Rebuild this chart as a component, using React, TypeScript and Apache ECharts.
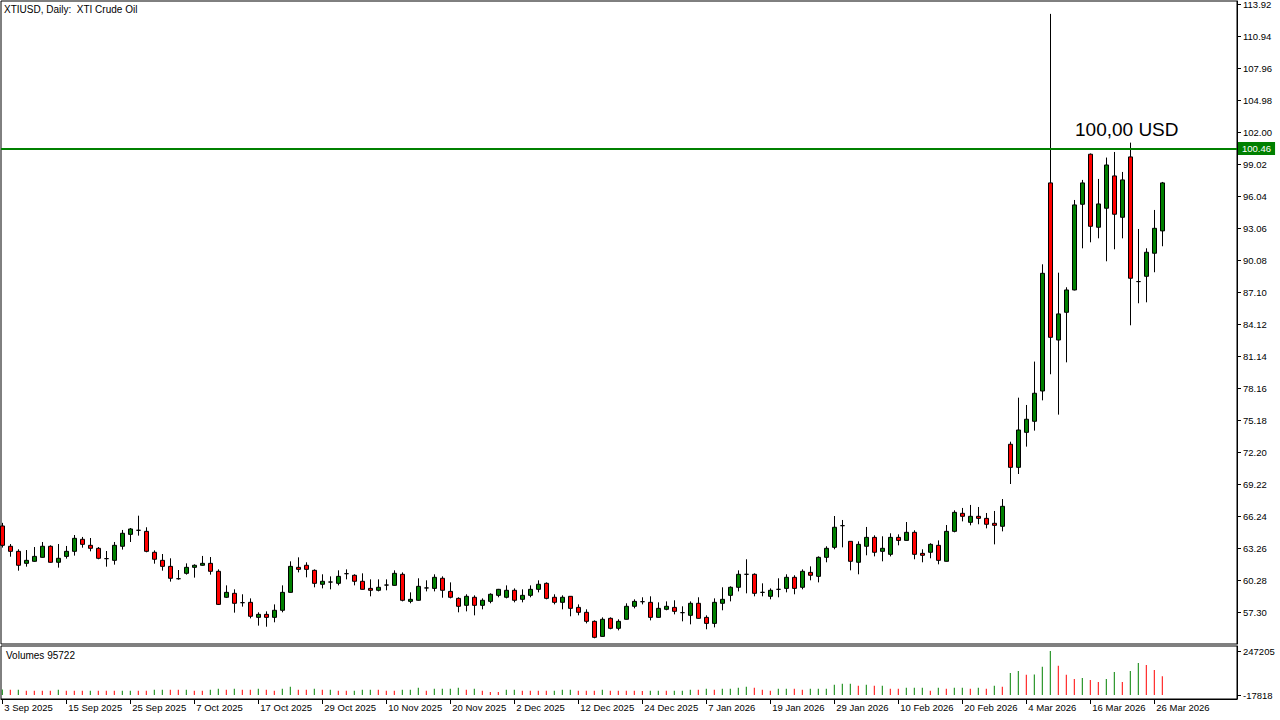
import React, { useEffect, useRef } from "react";
import * as echarts from "echarts";

// ---- data (XTIUSD daily, 3 Sep 2025 .. 27 Mar 2026) ----
const opens = [65.31, 63.42, 62.95, 61.83, 62.02, 62.39, 63.42, 61.93, 62.48, 62.95,
  64.07, 63.51, 63.23, 62.27, 62.11, 63.42, 64.53, 64.91, 64.81, 62.86,
  62.11, 61.55, 60.40, 60.90, 61.46, 61.65, 61.83, 61.09, 58.67, 59.04,
  58.17, 58.20, 56.80, 57.08, 56.80, 57.46, 59.13, 61.46, 61.65, 61.18,
  59.88, 60.09, 59.97, 60.87, 60.72, 60.16, 59.50, 59.32, 59.81, 59.78,
  60.81, 58.29, 58.39, 59.54, 59.50, 60.44, 59.22, 58.57, 57.92, 58.67,
  57.92, 58.29, 58.85, 58.67, 59.32, 58.48, 58.85, 59.41, 59.97, 58.67,
  58.20, 58.76, 57.73, 57.27, 56.43, 55.03, 56.71, 55.78, 56.62, 57.83,
  58.26, 58.20, 56.80, 57.55, 57.73, 57.24, 56.99, 58.11, 56.80, 56.24,
  58.11, 58.85, 59.60, 60.81, 60.81, 59.13, 58.76, 59.41, 59.50, 60.53,
  59.60, 60.99, 60.62, 62.39, 63.32, 65.34, 63.88, 61.93, 63.42, 64.25,
  62.95, 62.67, 64.25, 63.97, 64.72, 62.76, 62.86, 63.51, 62.02, 64.81,
  66.49, 65.65, 66.21, 66.02, 65.56, 65.28, 72.92, 70.77, 74.03, 75.06,
  77.88, 97.26, 82.63, 85.21, 87.29, 95.27, 99.93, 93.13, 94.90, 97.91,
  94.06, 99.68, 88.07, 88.56, 90.71, 92.79];

const highs = [65.60, 63.63, 63.14, 63.07, 63.35, 63.82, 63.51, 63.63, 63.45, 64.47,
  64.29, 64.19, 63.35, 62.98, 63.82, 64.94, 65.12, 66.27, 65.19, 63.04,
  62.70, 62.30, 61.21, 61.83, 61.74, 62.52, 62.42, 61.27, 59.78, 59.41,
  58.95, 58.57, 57.27, 57.36, 58.01, 59.78, 62.02, 62.39, 61.93, 61.27,
  60.81, 60.62, 61.18, 61.27, 60.81, 60.90, 60.34, 60.34, 60.34, 61.18,
  60.99, 59.13, 60.44, 60.25, 60.81, 60.62, 60.06, 58.67, 58.95, 58.85,
  58.57, 59.04, 59.45, 59.78, 59.50, 59.41, 59.78, 60.25, 60.06, 58.95,
  58.85, 58.78, 58.01, 57.55, 56.52, 56.80, 56.80, 56.62, 58.11, 58.48,
  58.67, 58.76, 58.20, 58.29, 58.39, 57.83, 58.29, 58.67, 56.99, 58.57,
  59.60, 59.69, 61.18, 62.21, 60.90, 59.97, 59.50, 60.44, 60.81, 60.72,
  61.27, 61.55, 62.48, 63.42, 66.24, 65.87, 63.90, 63.88, 65.22, 64.44,
  64.35, 64.63, 64.53, 65.68, 64.91, 63.14, 63.70, 63.97, 65.40, 66.77,
  66.99, 67.27, 67.08, 66.52, 66.71, 67.82, 73.16, 77.26, 76.58, 80.62,
  89.68, 113.00, 88.90, 87.54, 95.67, 97.54, 100.00, 97.63, 99.62, 100.14,
  98.28, 101.01, 92.97, 91.17, 94.74, 97.35];

const lows = [63.30, 62.45, 61.15, 61.52, 61.98, 62.36, 61.90, 61.43, 62.27, 62.55,
  63.29, 62.95, 62.21, 61.52, 61.71, 63.11, 63.82, 64.41, 62.86, 61.80,
  61.15, 60.13, 60.31, 60.78, 60.50, 61.60, 60.78, 57.95, 58.60, 57.24,
  57.80, 56.71, 56.03, 55.93, 56.34, 57.27, 59.10, 60.99, 60.53, 59.60,
  59.50, 59.41, 59.78, 60.34, 59.78, 59.38, 58.76, 59.22, 59.32, 59.75,
  58.29, 58.11, 58.35, 59.22, 59.22, 58.63, 58.57, 57.27, 57.36, 56.99,
  57.55, 58.11, 58.67, 58.57, 58.20, 58.20, 58.67, 59.13, 58.48, 58.01,
  57.55, 56.90, 56.99, 56.24, 54.85, 55.00, 55.69, 55.59, 56.60, 57.64,
  58.01, 56.52, 56.78, 57.46, 57.08, 56.43, 56.15, 56.68, 55.69, 55.87,
  57.46, 58.29, 59.22, 59.04, 58.76, 58.76, 58.48, 58.67, 59.13, 58.95,
  59.41, 60.25, 60.06, 61.93, 63.14, 63.32, 61.18, 60.81, 62.58, 62.48,
  62.02, 62.48, 63.51, 63.95, 62.21, 61.93, 62.30, 61.74, 62.00, 64.72,
  65.74, 65.37, 65.47, 65.09, 63.60, 64.81, 69.22, 70.15, 72.70, 74.19,
  77.01, 79.44, 75.68, 80.55, 87.25, 91.17, 91.73, 92.10, 89.96, 91.08,
  92.10, 84.00, 86.05, 86.14, 88.94, 91.36];

const closes = [63.51, 62.95, 61.65, 62.11, 62.48, 63.42, 61.93, 62.30, 62.95, 64.16,
  63.60, 63.23, 62.30, 62.27, 63.51, 64.63, 65.03, 64.91, 62.95, 62.21,
  61.55, 60.44, 60.40, 61.46, 61.65, 61.83, 61.09, 58.01, 59.13, 58.11,
  58.17, 56.90, 57.08, 56.80, 57.46, 59.13, 61.55, 61.27, 61.27, 59.97,
  60.16, 60.09, 60.62, 60.87, 60.16, 59.41, 59.32, 59.60, 59.81, 60.90,
  58.39, 58.48, 59.69, 59.54, 60.53, 59.32, 58.67, 57.83, 58.76, 57.92,
  58.39, 58.95, 59.41, 59.32, 58.39, 58.85, 59.41, 59.88, 58.57, 58.20,
  58.67, 57.64, 57.27, 56.43, 54.94, 56.62, 55.78, 56.43, 57.83, 58.29,
  58.26, 56.80, 57.64, 57.83, 57.36, 57.24, 58.11, 56.71, 56.24, 58.20,
  58.48, 59.60, 60.81, 60.81, 59.04, 59.13, 59.32, 59.41, 60.53, 59.50,
  61.09, 60.72, 62.39, 63.23, 65.19, 65.34, 62.02, 63.60, 64.25, 62.86,
  63.23, 64.25, 63.97, 64.72, 62.67, 62.58, 63.60, 62.11, 64.81, 66.58,
  66.21, 66.21, 66.02, 65.47, 65.37, 67.14, 70.77, 74.25, 75.25, 77.67,
  88.84, 82.88, 85.06, 87.29, 95.21, 97.26, 93.22, 95.30, 98.93, 94.34,
  97.54, 88.38, 88.07, 90.80, 93.03, 97.26];

const volumes = [15000, 13800, 14400, 7800, 7700, 7600, 7500, 13800, 7800, 7700,
  7600, 8100, 7900, 7800, 7700, 8000, 8400, 8200, 8000, 13800,
  14100, 13900, 13700, 14000, 8000, 7800, 13700, 19800, 13800, 19700,
  13900, 13600, 19500, 13800, 7800, 19800, 31900, 13800, 13500, 19800,
  13900, 14200, 7900, 7700, 8100, 13700, 14000, 13800, 7800, 7600,
  13700, 14100, 25800, 7800, 19500, 19800, 20100, 25800, 13800, 19800,
  7800, 600, 300, 13500, 13900, 7800, 7700, 7600, 7500, 7900,
  13700, 14000, 7800, 7700, 7600, 13800, 7800, 7700, 7600, 7500,
  6700, 7800, 8000, 7800, 8100, 8300, 13800, 13600, 19800, 13800,
  19800, 20000, 25800, 31900, 25800, 13800, 7800, 19800, 20100, 19900,
  13800, 19800, 20000, 20200, 43900, 49900, 50300, 37900, 43900, 37900,
  38200, 19800, 19600, 25800, 26000, 26200, 7800, 25800, 19800, 25800,
  26100, 19800, 25800, 19800, 37900, 31900, 114700, 126800, 104700, 105500,
  152900, 247205, 158900, 104700, 78600, 84600, 72500, 60500, 78600, 120700,
  60500, 126800, 175000, 162900, 132800, 95722];

const tickLabels = ["3 Sep 2025", "15 Sep 2025", "25 Sep 2025", "7 Oct 2025", "17 Oct 2025",
  "29 Oct 2025", "10 Nov 2025", "20 Nov 2025", "2 Dec 2025", "12 Dec 2025", "24 Dec 2025",
  "7 Jan 2026", "19 Jan 2026", "29 Jan 2026", "10 Feb 2026", "20 Feb 2026", "4 Mar 2026",
  "16 Mar 2026", "26 Mar 2026"];
const BARS_PER_LABEL = 8;

// price axis: ticks every 2.98 counted from the pane's bottom value 54.32 (57.30 ... 113.92)
const PRICE_MIN = 54.32;
const PRICE_MAX = 114.2;
const PRICE_STEP = 2.98;

const HLINE_PRICE = 100.46;
const HLINE_TEXT = "100,00 USD";
const TITLE = "XTIUSD, Daily:  XTI Crude Oil";

const VOL_LOW = -17818;
const VOL_HIGH = 247205;

// ---- styling ----
const GREEN = "#008000";
const RED = "#ff0000";
const FONT = "'Liberation Sans', Arial, sans-serif";
const X_MIN = -0.1625;
const X_MAX = 154.3375;

export default function App() {
  const ref = useRef<HTMLDivElement>(null);

  useEffect(() => {
    if (!ref.current) return;
    const chart = echarts.init(ref.current, null, { renderer: "svg" });

    const candleData = opens.map((o, i) => [i, o, closes[i], lows[i], highs[i]]);
    const volData = volumes.map((v, i) => ({
      value: [i, v - VOL_LOW],
      itemStyle: { color: i === 0 || v > volumes[i - 1] ? GREEN : RED },
    }));
    const tickIdx = tickLabels.map((_, k) => k * BARS_PER_LABEL);
    const volSpan = VOL_HIGH - VOL_LOW;
    const volPx = volSpan / 44;

    chart.setOption({
      animation: false,
      backgroundColor: "#ffffff",
      textStyle: { fontFamily: FONT },
      grid: [
        {
          left: 1, top: 1, width: 1236, height: 643,
          show: true, borderColor: "#000", borderWidth: 1, backgroundColor: "#fff",
          containLabel: false, outerBoundsMode: "none",
        },
        {
          left: 1, top: 646, width: 1236, height: 53,
          show: true, borderColor: "#000", borderWidth: 1, backgroundColor: "#fff",
          containLabel: false, outerBoundsMode: "none",
        },
      ],
      xAxis: [
        {
          type: "value", gridIndex: 0, min: X_MIN, max: X_MAX,
          show: false, splitLine: { show: false },
          axisLine: { onZero: false },
        },
        {
          type: "value", gridIndex: 1, min: X_MIN, max: X_MAX, position: "bottom",
          axisLine: { show: true, onZero: false, lineStyle: { color: "#000" } },
          splitLine: { show: false },
          axisTick: {
            show: true, customValues: tickIdx, length: 5, inside: false,
            lineStyle: { color: "#000" },
          },
          axisLabel: {
            show: true, customValues: tickIdx, align: "left", margin: 3,
            padding: [0, 0, 0, 2],
            color: "#000", fontSize: 9.5, fontFamily: FONT,
            formatter: (v: number) => tickLabels[Math.round(v / BARS_PER_LABEL)] ?? "",
          },
        },
      ],
      yAxis: [
        {
          type: "value", gridIndex: 0, position: "right",
          min: PRICE_MIN, max: PRICE_MAX, interval: PRICE_STEP,
          splitLine: { show: false },
          axisLine: { show: true, onZero: false, lineStyle: { color: "#000" } },
          axisTick: { show: true, length: 4, inside: false, lineStyle: { color: "#000" } },
          axisLabel: {
            show: true, margin: 6, color: "#000",
            showMinLabel: false, showMaxLabel: false,
            fontSize: 9.5, fontFamily: FONT,
            formatter: (v: number) => v.toFixed(2),
          },
        },
        {
          type: "value", gridIndex: 1, position: "right",
          min: -4 * volPx, max: volSpan + 5 * volPx,
          splitLine: { show: false },
          axisLine: { show: true, onZero: false, lineStyle: { color: "#000" } },
          axisTick: {
            show: true, customValues: [0, volSpan], length: 4, inside: false,
            lineStyle: { color: "#000" },
          },
          axisLabel: {
            show: true, customValues: [0, volSpan], margin: 6, color: "#000",
            fontSize: 9.5, fontFamily: FONT,
            formatter: (v: number) => String(Math.round(v + VOL_LOW)),
          },
        },
      ],
      series: [
        {
          type: "candlestick",
          xAxisIndex: 0, yAxisIndex: 0,
          data: candleData,
          encode: { x: 0, y: [1, 2, 3, 4] },
          barWidth: 4,
          clip: true,
          itemStyle: {
            color: GREEN, color0: RED,
            borderColor: "#000", borderColor0: "#000", borderColorDoji: "#000",
            borderWidth: 1,
          },
          markLine: {
            silent: true,
            symbol: "none",
            animation: false,
            lineStyle: { color: GREEN, width: 2, type: "solid" },
            label: {
              show: true, position: "end", distance: 1,
              formatter: HLINE_PRICE.toFixed(2),
              color: "#fff", backgroundColor: GREEN, padding: [2, 4, 1, 4],
              fontSize: 9.5, fontFamily: FONT,
            },
            data: [{ yAxis: HLINE_PRICE }],
          },
        },
        {
          type: "bar",
          xAxisIndex: 1, yAxisIndex: 1,
          data: volData,
          barWidth: 1,
        },
      ],
      graphic: [
        {
          type: "text", left: 4, top: 4, silent: true,
          style: { text: TITLE, fill: "#000", fontSize: 10, fontFamily: FONT },
        },
        {
          type: "text", left: 6, top: 650, silent: true,
          style: { text: `Volumes ${volumes[volumes.length - 1]}`, fill: "#000", fontSize: 10, fontFamily: FONT },
        },
        {
          type: "text", left: 1075, top: 120, silent: true,
          style: { text: HLINE_TEXT, fill: "#000", fontSize: 19, fontFamily: FONT },
        },
      ],
    });

    return () => chart.dispose();
  }, []);

  return (
    <div
      ref={ref}
      style={{ position: "fixed", left: 0, top: 0, width: 1280, height: 720, background: "#fff" }}
    />
  );
}
